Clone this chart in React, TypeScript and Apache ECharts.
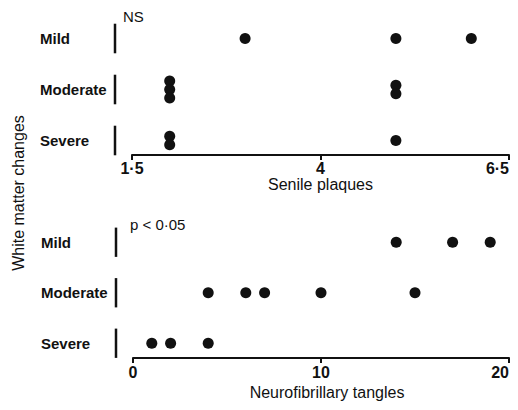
import React, { useEffect, useRef } from "react";
import * as echarts from "echarts";

const FONT = '"Liberation Sans", Arial, Helvetica, sans-serif';
const INK = "#111111";

// categories (bottom to top)
const severityCats = ["Severe", "Moderate", "Mild"];

// Senile plaques
const plaqueTicks = [1.5, 4, 6.5];
const plaquesMild = [3, 5, 6];
const plaquesModerate = [2, 2, 2, 5, 5];
const plaquesSevere = [2, 2, 5];

// Neurofibrillary tangles
const tangleTicks = [0, 10, 20];
const tanglesMild = [14, 17, 19];
const tanglesModerate = [4, 6, 7, 10, 15];
const tanglesSevere = [1, 2, 4];

const STACK_GAP = 8.5;

function fmt(v: number) {
  return String(v).replace(".", "\u00b7");
}

function dotData(groups: number[][]) {
  const out: any[] = [];
  groups.forEach((vals, ci) => {
    const counts: Record<string, number> = {};
    vals.forEach((v) => (counts[v] = (counts[v] || 0) + 1));
    const seen: Record<string, number> = {};
    vals.forEach((v) => {
      const n = counts[v];
      const k = seen[v] || 0;
      seen[v] = k + 1;
      const off = (k - (n - 1) / 2) * STACK_GAP;
      out.push({ value: [v, severityCats[ci]], symbolOffset: [0, off] });
    });
  });
  return out;
}

function segmentSeries(gridIndex: number, xMin: number) {
  return {
    type: "custom",
    xAxisIndex: gridIndex,
    yAxisIndex: gridIndex,
    clip: false,
    silent: true,
    data: severityCats.map((c) => [xMin, c]),
    renderItem: (params: any, api: any) => {
      const p = api.coord([api.value(0), api.value(1)]);
      const band = api.size([0, 1])[1];
      const h = band * 0.29;
      return {
        type: "line",
        shape: { x1: p[0] - 17, y1: p[1] - h, x2: p[0] - 17, y2: p[1] + h },
        style: { stroke: INK, lineWidth: 2.5 },
      };
    },
  };
}

function xAxisDef(
  gridIndex: number,
  ticks: number[],
  name: string,
  offset: number,
  nameGap: number,
  margin: number,
  namePad: number[]
) {
  return {
    type: "value",
    gridIndex,
    min: ticks[0],
    max: ticks[ticks.length - 1],
    offset,
    splitLine: { show: false },
    axisLine: { show: true, lineStyle: { color: INK, width: 2 } },
    axisTick: {
      show: true,
      inside: false,
      length: 5,
      customValues: ticks,
      lineStyle: { color: INK, width: 2 },
    },
    axisLabel: {
      customValues: ticks,
      formatter: (v: any) => fmt(Number(v)),
      alignMaxLabel: "right",
      margin,
      fontFamily: FONT,
      fontSize: 16,
      fontWeight: "bold",
      color: INK,
    },
    name,
    nameLocation: "middle",
    nameGap,
    nameTextStyle: { color: INK, fontFamily: FONT, fontSize: 16, padding: namePad },
  };
}

function yAxisDef(gridIndex: number) {
  return {
    type: "category",
    gridIndex,
    data: severityCats,
    boundaryGap: true,
    axisLine: { show: false },
    axisTick: { show: false },
    splitLine: { show: false },
    axisLabel: {
      align: "left",
      margin: 92,
      color: INK,
      fontFamily: FONT,
      fontSize: 15,
      fontWeight: "bold",
    },
  };
}

function dotSeries(gridIndex: number, groups: number[][]) {
  return {
    type: "scatter",
    xAxisIndex: gridIndex,
    yAxisIndex: gridIndex,
    symbol: "circle",
    symbolSize: 11,
    itemStyle: { color: INK, opacity: 1 },
    clip: false,
    data: dotData(groups),
  };
}

export default function App() {
  const ref = useRef<HTMLDivElement>(null);
  useEffect(() => {
    if (!ref.current) return;
    const chart = echarts.init(ref.current, undefined, { renderer: "svg" });
    chart.setOption({
      animation: false,
      backgroundColor: "#ffffff",
      textStyle: { fontFamily: FONT },
      title: [
        {
          text: "NS",
          left: 123,
          top: 9,
          padding: 0,
          textStyle: { color: INK, fontFamily: FONT, fontSize: 15, fontWeight: "normal" },
        },
        {
          text: "p < 0\u00b705",
          left: 130,
          top: 217,
          padding: 0,
          textStyle: { color: INK, fontFamily: FONT, fontSize: 15, fontWeight: "normal" },
        },
      ],
      graphic: [
        {
          type: "text",
          x: 18,
          y: 193,
          rotation: Math.PI / 2,
          style: {
            text: "White matter changes",
            fill: INK,
            font: `16px ${FONT}`,
            align: "center",
            verticalAlign: "middle",
          },
        },
      ],
      grid: [
        { left: 132, right: 9, top: 13, height: 153 },
        { left: 133, right: 9, top: 217, height: 151.5 },
      ],
      xAxis: [
        xAxisDef(0, plaqueTicks, "Senile plaques", -11, 20, 5, [0, 0, 0, 0]),
        xAxisDef(1, tangleTicks, "Neurofibrillary tangles", -10.5, 26, 6, [0, 0, 0, 12]),
      ],
      yAxis: [yAxisDef(0), yAxisDef(1)],
      series: [
        segmentSeries(0, plaqueTicks[0]),
        segmentSeries(1, tangleTicks[0]),
        dotSeries(0, [plaquesSevere, plaquesModerate, plaquesMild]),
        dotSeries(1, [tanglesSevere, tanglesModerate, tanglesMild]),
      ],
    });
    return () => chart.dispose();
  }, []);
  return <div ref={ref} style={{ width: 518, height: 410, margin: -8 }} />;
}
